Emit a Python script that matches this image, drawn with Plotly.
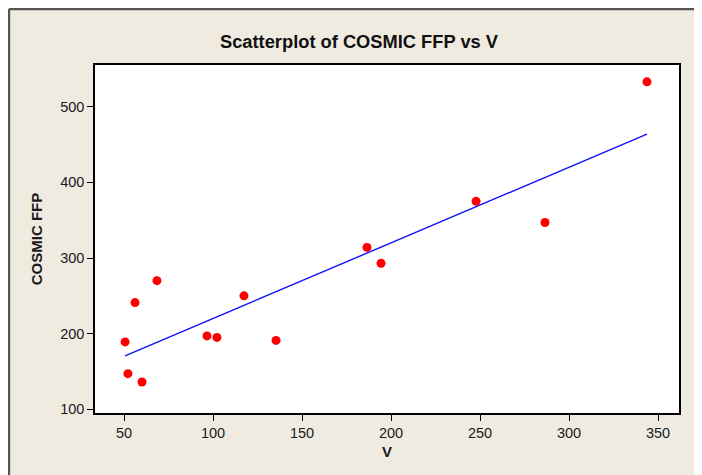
import numpy as np
import plotly.graph_objects as go

# Data
v_values = [50.6, 52.2, 56.2, 60.1, 68.5, 96.6, 102.2, 117.4, 135.4, 186.5, 194.4, 247.8, 286.5, 343.8]
cosmic_ffp = [189, 147, 241, 136, 270, 197, 195, 250, 191, 314, 293, 375, 347, 533]
x_ticks = [50, 100, 150, 200, 250, 300, 350]
y_ticks = [100, 200, 300, 400, 500]

# Least-squares regression line drawn between the min and max of V
slope, intercept = np.polyfit(v_values, cosmic_ffp, 1)
fit_x = [min(v_values), max(v_values)]
fit_y = [intercept + slope * xv for xv in fit_x]

FONT = "Liberation Sans, Arial, sans-serif"
BEIGE = "#EFEBE1"

fig = go.Figure()
fig.add_trace(go.Scatter(x=fit_x, y=fit_y, mode="lines",
                         line=dict(color="#1010FF", width=1.4),
                         hoverinfo="skip", showlegend=False))
fig.add_trace(go.Scatter(x=v_values, y=cosmic_ffp, mode="markers",
                         marker=dict(color="#FF0000", size=9, line=dict(width=0)),
                         showlegend=False))

W, H = 702, 475
L, R, T, B = 87, 31, 57, 70
pw, ph = W - L - R, H - T - B

def px_x(p):
    return (p - L) / pw

def px_y(p):
    return (H - B - p) / ph

# outer frame along the figure's top and left edges
frame = dict(color="#555555", width=2.4)
fig.add_shape(type="line", xref="paper", yref="paper",
              x0=px_x(1), x1=px_x(W), y0=px_y(1), y1=px_y(1), line=frame)
fig.add_shape(type="line", xref="paper", yref="paper",
              x0=px_x(1), x1=px_x(1), y0=px_y(H), y1=px_y(1), line=frame)

fig.update_layout(
    width=W, height=H,
    margin=dict(l=L, r=R, t=T, b=B),
    paper_bgcolor=BEIGE,
    plot_bgcolor="white",
    font=dict(family=FONT, size=14.5, color="#1a1a1a"),
    title=dict(text="<b>Scatterplot of COSMIC FFP vs V</b>",
               font=dict(family=FONT, size=18.3, color="#111111"),
               x=0.5, xref="container", xanchor="center",
               y=1 - 34 / H, yref="container", yanchor="middle"),
    showlegend=False,
)
fig.update_xaxes(range=[33.7, 361.8], tickvals=x_ticks, ticks="outside", ticklen=6,
                 tickcolor="black", tickwidth=1, showgrid=False, zeroline=False,
                 showline=True, linecolor="black", linewidth=1.5, mirror=True,
                 tickfont=dict(size=14.5),
                 title=dict(text="<b>V</b>", font=dict(size=15), standoff=6))
fig.update_yaxes(range=[95, 555.3], tickvals=y_ticks, ticks="outside", ticklen=6,
                 tickcolor="black", tickwidth=1, showgrid=False, zeroline=False,
                 showline=True, linecolor="black", linewidth=1.5, mirror=True,
                 tickfont=dict(size=14.5),
                 title=dict(text="<b>COSMIC FFP</b>", font=dict(size=15), standoff=14))

fig.write_html("out.html", config={"displayModeBar": False})
